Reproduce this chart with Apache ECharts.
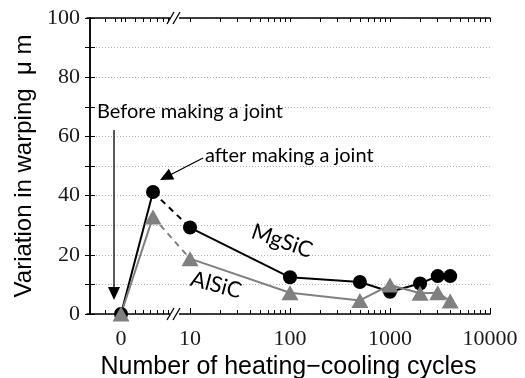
<!DOCTYPE html>
<html>
<head>
<meta charset="utf-8">
<script src="https://cdn.jsdelivr.net/npm/echarts@6/dist/echarts.min.js"></script>
<style>
  html, body { margin: 0; padding: 0; background: #fff; }
  #chart { width: 525px; height: 378px; }
</style>
</head>
<body>
<div id="chart"></div>
<script>
// stage 0 = before joint, 1 = after making a joint, then cycle counts (broken axis)
var cycles = [0, 1, 10, 100, 500, 1000, 2000, 3000, 4000];
var mgsic = [0, 41.2, 29.2, 12.4, 10.8, 7.5, 10.3, 12.8, 12.8];
var alsic = [0, 32.8, 18.7, 7.2, 4.6, 9.8, 7.0, 7.2, 4.4];
var xLabels = ['0', '10', '100', '1000', '10000'];
var xLabelCycles = [0, 10, 100, 1000, 10000];
var yTicks = [0, 10, 20, 30, 40, 50, 60, 70, 80, 90, 100];
// minor ticks of the short pre-break part, in axis units
var preBreakTicks = [0.15, 0.25, 0.35, 0.45, 0.53, 0.6, 0.67, 0.73, 0.78];

var numFont = 'Liberation Sans Narrow';
var noteFont = 'Lato';
var xMin = -0.03, xMax = 4;

// axis position: log10 above the break, short linear piece before it
function pos(c) {
    return c >= 10 ? Math.log10(c) : 0.31 + 0.32 * c;
}

var majorPos = xLabelCycles.map(pos);
var minorPos = preBreakTicks.slice();
for (var d = 1; d <= 3; d++) {
    for (var k = 2; k <= 9; k++) {
        minorPos.push(Math.log10(k * Math.pow(10, d)));
    }
}
var allPos = majorPos.concat(minorPos);

function pts(vals, from, to) {
    var out = [];
    for (var i = from; i < to; i++) {
        out.push([pos(cycles[i]), vals[i]]);
    }
    return out;
}

// solid up to the peak, dashed across the break, solid afterwards
function segs(vals, color) {
    var parts = [[0, 2, 'solid'], [1, 3, [6, 5]], [2, 9, 'solid']];
    return parts.map(function (p) {
        return {
            type: 'line', showSymbol: false, silent: true,
            data: pts(vals, p[0], p[1]),
            lineStyle: { color: color, width: 2, type: p[2] }
        };
    });
}

// arrow head polygon pointing from (x1,y1) to (x2,y2)
function head(x1, y1, x2, y2, len, half) {
    var dx = x2 - x1, dy = y2 - y1;
    var l = Math.sqrt(dx * dx + dy * dy);
    var ux = dx / l, uy = dy / l;
    var bx = x2 - ux * len, by = y2 - uy * len;
    return [[x2, y2], [bx - uy * half, by + ux * half], [bx + uy * half, by - ux * half]];
}

var myChart = echarts.init(document.getElementById('chart'));

var series = segs(mgsic, '#000').concat(segs(alsic, '#808080'));
series.push({
    type: 'line', data: pts(mgsic, 0, 9),
    symbol: 'circle', symbolSize: 14,
    itemStyle: { color: '#000' }, lineStyle: { width: 0 }, z: 5
});
series.push({
    type: 'line', data: pts(alsic, 0, 9),
    symbol: 'triangle', symbolSize: [17, 15],
    itemStyle: { color: '#808080' }, lineStyle: { width: 0 }, z: 6
});

var options = {
    animation: false,
    grid: { left: 87, right: 35, top: 18, bottom: 64, outerBoundsMode: 'none' },
    xAxis: [
        {
            type: 'value', min: xMin, max: xMax, position: 'bottom',
            axisLine: { lineStyle: { color: '#000', width: 1.5 } },
            axisTick: { inside: true, length: 6, customValues: majorPos, lineStyle: { color: '#000' } },
            axisLabel: {
                customValues: majorPos, margin: 14,
                fontFamily: numFont, fontSize: 22, color: '#1a1a1a',
                formatter: function (v) {
                    for (var i = 0; i < majorPos.length; i++) {
                        if (Math.abs(majorPos[i] - v) < 1e-6) return xLabels[i];
                    }
                    return '';
                }
            },
            splitLine: { show: false },
            name: 'Number of heating\u2212cooling cycles',
            nameLocation: 'middle', nameGap: 36,
            nameTextStyle: { fontFamily: 'Liberation Sans', fontSize: 25, color: '#000' }
        },
        {
            type: 'value', min: xMin, max: xMax, position: 'bottom',
            axisLine: { show: false },
            axisTick: { inside: true, length: 4, customValues: minorPos, lineStyle: { color: '#000' } },
            axisLabel: { show: false },
            splitLine: { show: false }
        },
        {
            type: 'value', min: xMin, max: xMax, position: 'top',
            axisLine: { lineStyle: { color: '#000', width: 1.5 } },
            axisTick: { inside: true, length: 4, customValues: allPos, lineStyle: { color: '#000' } },
            axisLabel: { show: false },
            splitLine: { show: false }
        }
    ],
    yAxis: [
        {
            type: 'value', min: 0, max: 100, interval: 20,
            axisLine: { show: true, lineStyle: { color: '#000', width: 1.5 } },
            axisTick: { show: true, inside: true, length: 5, customValues: yTicks, lineStyle: { color: '#000' } },
            axisLabel: { fontFamily: numFont, fontSize: 22, color: '#1a1a1a', margin: 7 },
            splitLine: { show: true, lineStyle: { color: '#b4b4b4', type: [1, 2], width: 1 } },
            name: 'Variation in warping  \u03bc m',
            nameLocation: 'middle', nameGap: 40, nameRotate: 90,
            nameTextStyle: { fontFamily: 'Liberation Sans', fontSize: 24, color: '#000' }
        },
        {
            type: 'value', min: 0, max: 100, position: 'right',
            axisLine: { show: true, lineStyle: { color: '#000', width: 1.5 } },
            axisTick: { show: true, inside: true, length: 5, customValues: yTicks, lineStyle: { color: '#000' } },
            axisLabel: { show: false },
            splitLine: { show: false }
        }
    ],
    series: series,
    graphic: [
        // axis break marks
        { type: 'rect', shape: { x: 170, y: 12, width: 9, height: 12 }, style: { fill: '#fff' }, z: 50 },
        { type: 'rect', shape: { x: 170, y: 308, width: 9, height: 12 }, style: { fill: '#fff' }, z: 50 },
        { type: 'line', shape: { x1: 167, y1: 24, x2: 174, y2: 12 }, style: { stroke: '#000', lineWidth: 1.3 }, z: 51 },
        { type: 'line', shape: { x1: 173, y1: 24, x2: 180, y2: 12 }, style: { stroke: '#000', lineWidth: 1.3 }, z: 51 },
        { type: 'line', shape: { x1: 167, y1: 320, x2: 174, y2: 308 }, style: { stroke: '#000', lineWidth: 1.3 }, z: 51 },
        { type: 'line', shape: { x1: 173, y1: 320, x2: 180, y2: 308 }, style: { stroke: '#000', lineWidth: 1.3 }, z: 51 },
        // annotations
        { type: 'text', x: 97, y: 102, style: { text: 'Before making a joint', fontFamily: noteFont, fontSize: 20, fill: '#000' }, z: 52 },
        { type: 'line', shape: { x1: 114, y1: 130, x2: 114, y2: 290 }, style: { stroke: '#000', lineWidth: 1.3 }, z: 52 },
        { type: 'polygon', shape: { points: head(114, 130, 114, 300, 13, 6) }, style: { fill: '#000' }, z: 52 },
        { type: 'text', x: 205, y: 146, style: { text: 'after making a joint', fontFamily: noteFont, fontSize: 20, fill: '#000' }, z: 52 },
        { type: 'line', shape: { x1: 203, y1: 158, x2: 170, y2: 175 }, style: { stroke: '#000', lineWidth: 1.3 }, z: 52 },
        { type: 'polygon', shape: { points: head(203, 158, 160, 180, 13, 6) }, style: { fill: '#000' }, z: 52 },
        { type: 'text', x: 282, y: 241, rotation: -0.33, style: { text: 'MgSiC', fontFamily: noteFont, fontSize: 22, fill: '#000', align: 'center', verticalAlign: 'middle' }, z: 52 },
        { type: 'text', x: 216, y: 285, rotation: -0.26, style: { text: 'AlSiC', fontFamily: noteFont, fontSize: 22, fill: '#000', align: 'center', verticalAlign: 'middle' }, z: 52 }
    ]
};

// 绘制图表
myChart.setOption(options);
</script>
</body>
</html>
